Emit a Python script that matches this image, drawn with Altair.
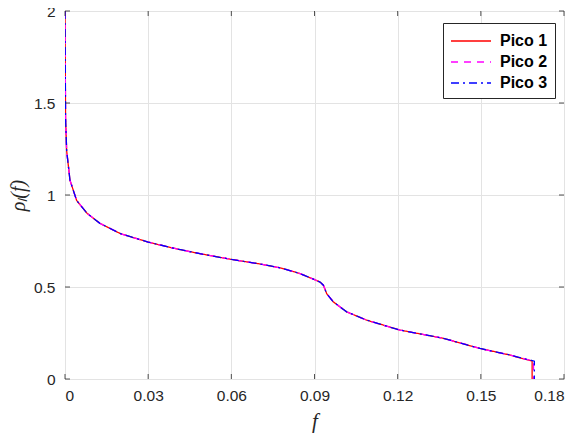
import altair as alt
import pandas as pd

# Shared curve
f_vals = [0.0, 0.0002, 0.0006, 0.0018, 0.0042, 0.0080, 0.0126, 0.020, 0.030, 0.040,
          0.0487, 0.060, 0.070, 0.0780, 0.0848, 0.0900, 0.0920, 0.0932, 0.0944,
          0.0968, 0.1016, 0.1088, 0.1208, 0.1365, 0.1497, 0.1600]
rho_vals = [2.0, 1.42, 1.24, 1.08, 0.97, 0.90, 0.846, 0.79, 0.744, 0.708,
            0.681, 0.650, 0.626, 0.603, 0.573, 0.540, 0.527, 0.510, 0.464,
            0.419, 0.365, 0.320, 0.266, 0.221, 0.166, 0.132]

series = ["Pico 1", "Pico 2", "Pico 3"]
end_f = [0.1685, 0.1690, 0.1693]
end_rho = [0.097, 0.097, 0.097]
colors = ["#FF0000", "#FF00FF", "#0000FF"]
dashes = [[1, 0], [7, 6], [8, 4, 2, 4]]

x_ticks = [0.0, 0.03, 0.06, 0.09, 0.12, 0.15, 0.18]
y_ticks = [0.0, 0.5, 1.0, 1.5, 2.0]

rows = []
for s, ef, er in zip(series, end_f, end_rho):
    pts = list(zip(f_vals, rho_vals)) + [(ef, er), (ef, 0.0)]
    for i, (fx, ry) in enumerate(pts):
        rows.append({"series": s, "f": fx, "rho": ry, "order": i})
df = pd.DataFrame(rows)

W, H = 499, 368
axis_color = "#262626"

xscale = alt.Scale(domain=[0, 0.18], nice=False, zero=False)
yscale = alt.Scale(domain=[0, 2], nice=False)

legend_kw = dict(title=None, orient="none", legendX=378, legendY=12,
                 strokeColor=axis_color, fillColor="white", padding=7,
                 labelFont="Liberation Sans", labelFontWeight="bold",
                 labelFontSize=16, labelColor="black", symbolType="M-1,0L3,0",
                 symbolSize=400, symbolStrokeWidth=1.3, rowPadding=2,
                 labelOffset=28, cornerRadius=0)

lines = alt.Chart(df).mark_line(strokeWidth=1.3, clip=True).encode(
    x=alt.X("f:Q", scale=xscale,
            axis=alt.Axis(values=x_ticks, title="f", ticks=False, domain=False,
                          labelExpr="datum.value == 0 ? '0' : format(datum.value, '.2f')",
                          labelFont="Liberation Sans", labelFontSize=15.5, labelColor=axis_color,
                          labelPadding=9, titleFont="Liberation Serif", titleFontStyle="italic",
                          titleFontWeight="normal", titleFontSize=21, titleColor=axis_color,
                          titlePadding=7, gridColor="#e3e3e3", gridWidth=1)),
    y=alt.Y("rho:Q", scale=yscale,
            axis=alt.Axis(values=y_ticks, title="ρₗ(f)", ticks=False, domain=False,
                          labelExpr="format(datum.value, '~g')",
                          labelFont="Liberation Sans", labelFontSize=15.5, labelColor=axis_color,
                          labelPadding=10, titleFont="Liberation Serif", titleFontStyle="italic",
                          titleFontWeight="normal", titleFontSize=20, titleColor=axis_color,
                          titlePadding=5, gridColor="#e3e3e3", gridWidth=1)),
    color=alt.Color("series:N", scale=alt.Scale(domain=series, range=colors),
                    legend=alt.Legend(**legend_kw)),
    strokeDash=alt.StrokeDash("series:N", scale=alt.Scale(domain=series, range=dashes),
                              legend=alt.Legend(**legend_kw)),
    order="order:Q",
)

xt = pd.DataFrame({"t": x_ticks})
yt = pd.DataFrame({"t": y_ticks})

tick_style = dict(color=axis_color, strokeWidth=0.8)
bottom_ticks = alt.Chart(xt).mark_rule(**tick_style).encode(
    x=alt.X("t:Q", scale=xscale), y=alt.value(H), y2=alt.value(H - 5))
top_ticks = alt.Chart(xt).mark_rule(**tick_style).encode(
    x=alt.X("t:Q", scale=xscale), y=alt.value(0), y2=alt.value(5))
left_ticks = alt.Chart(yt).mark_rule(**tick_style).encode(
    y=alt.Y("t:Q", scale=yscale), x=alt.value(0), x2=alt.value(5))
right_ticks = alt.Chart(yt).mark_rule(**tick_style).encode(
    y=alt.Y("t:Q", scale=yscale), x=alt.value(W), x2=alt.value(W - 5))

chart = alt.layer(lines, bottom_ticks, top_ticks, left_ticks, right_ticks).properties(
    width=W, height=H,
    autosize=alt.AutoSizeParams(type="none"),
    padding={"left": 57, "top": 3, "right": 10, "bottom": 57},
).configure_view(stroke=axis_color, strokeWidth=1.2).configure(background="white")

chart.save("out.html", embed_options={"renderer": "svg", "actions": False})
